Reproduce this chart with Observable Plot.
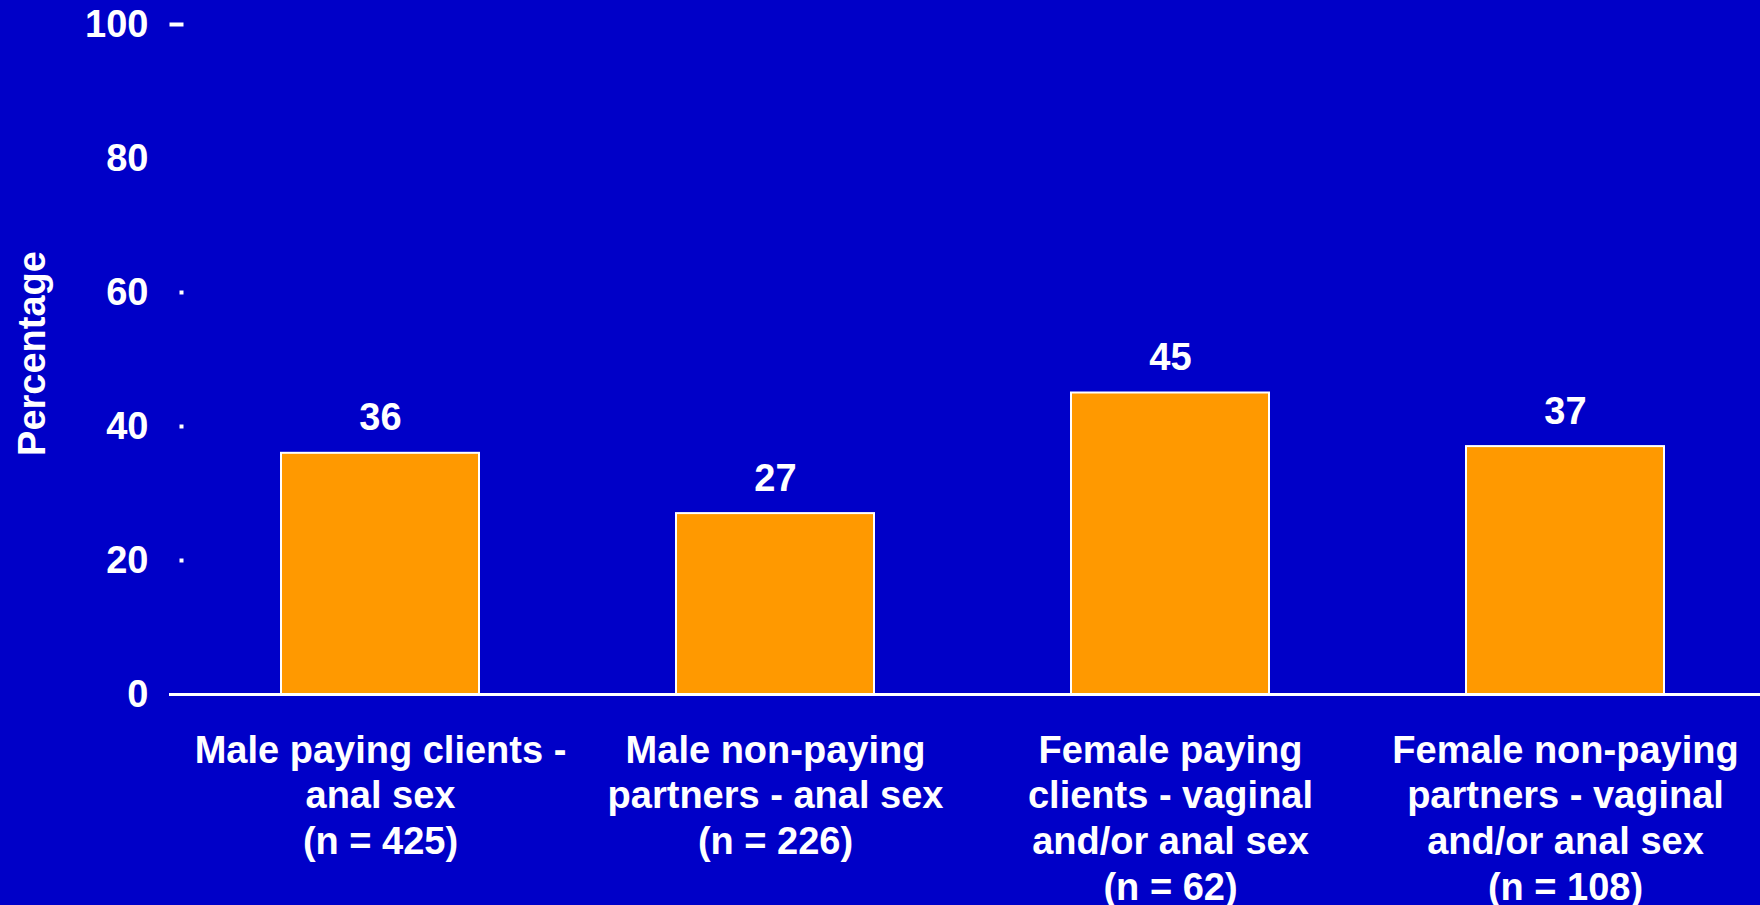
<!DOCTYPE html>
<html><head><meta charset="utf-8">
<script src="https://cdn.jsdelivr.net/npm/d3@7"></script>
<script src="https://cdn.jsdelivr.net/npm/@observablehq/plot@0.6"></script>
<style>html,body{margin:0;padding:0;background:#0000C8;overflow:hidden}</style>
</head><body><div id="chart"></div>
<script>
const categories = [
  "Male paying clients -\nanal sex\n(n = 425)",
  "Male non-paying\npartners - anal sex\n(n = 226)",
  "Female paying\nclients - vaginal\nand/or anal sex\n(n = 62)",
  "Female non-paying\npartners - vaginal\nand/or anal sex\n(n = 108)"
];
const percentages = [36, 27, 45, 37];
const yTicks = [0, 20, 40, 60, 80, 100];
const yDotTicks = [20, 40, 60];
const yDashTicks = [100];
const yLabel = "Percentage";

const data = categories.map((c, i) => ({category: c, value: percentages[i]}));
const font = "'Liberation Sans', Arial, sans-serif";
const squareSym = {draw(ctx) { ctx.rect(-2, -2, 4, 4); }};
const dashSym = {draw(ctx) { ctx.rect(-7, -2, 14, 4); }};

const chart = Plot.plot({
  width: 1760,
  height: 905,
  marginLeft: 169,
  marginRight: 0,
  marginTop: 24,
  marginBottom: 211,
  style: {background: "transparent", color: "white", fontFamily: font, fontWeight: "bold", overflow: "visible"},
  x: {domain: categories, range: [182, 1762], paddingInner: 0.5, paddingOuter: 0.25},
  y: {domain: [0, 100]},
  marks: [
    Plot.barY(data, {x: "category", y: "value", fill: "#FF9900", stroke: "white", strokeWidth: 2}),
    Plot.ruleY([0], {stroke: "white", strokeWidth: 3}),
    Plot.text(data, {x: "category", y: "value", text: d => String(d.value), dy: -35, lineAnchor: "middle",
      fontSize: 38, fontWeight: "bold", fill: "white"}),
    Plot.axisX({tickSize: 0, tickPadding: 36, fontSize: 38, fontWeight: "bold", fill: "white", lineHeight: 1.2, label: null}),
    Plot.axisY({ticks: yTicks, tickSize: 0, tickPadding: 21, fontSize: 38, fontWeight: "bold", fill: "white", label: null}),
    Plot.dot(yDotTicks, {y: d => d, frameAnchor: "left", dx: 12, symbol: squareSym, fill: "white", stroke: null}),
    Plot.dot(yDashTicks, {y: d => d, frameAnchor: "left", dx: 7, symbol: dashSym, fill: "white", stroke: null}),
    Plot.text([yLabel], {text: d => d, frameAnchor: "left", textAnchor: "middle", dx: -137, dy: -6, rotate: -90, lineAnchor: "middle",
      fontSize: 38, fontWeight: "bold", fill: "white"})
  ]
});
document.getElementById("chart").appendChild(chart);
</script>
</body></html>
